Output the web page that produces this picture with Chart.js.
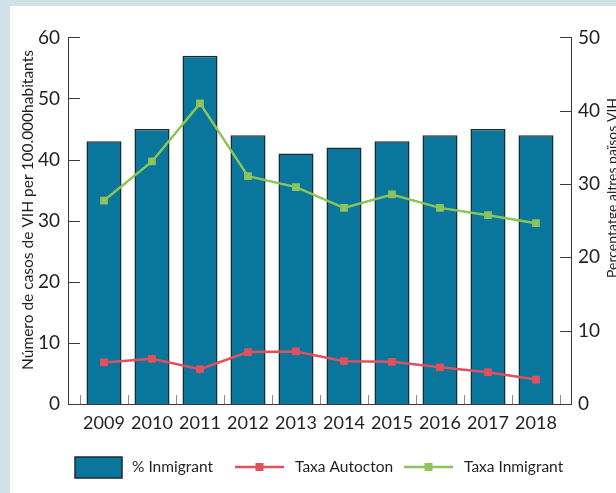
<!DOCTYPE html>
<html>
<head>
<meta charset="utf-8">
<script src="https://cdn.jsdelivr.net/npm/chart.js@4.4.0/dist/chart.umd.min.js"></script>
<style>
  html, body { margin: 0; padding: 0; }
  body { width: 616px; height: 493px; background: #cfe2ea; position: relative; overflow: hidden; }
  #wrap { position: absolute; left: 10px; top: 6px; width: 606px; height: 487px; background: #ffffff; }
</style>
</head>
<body>
<div id="wrap"><canvas id="combo-chart" width="606" height="487"></canvas></div>
<script>
// data
var years = ['2009', '2010', '2011', '2012', '2013', '2014', '2015', '2016', '2017', '2018'];
var pctInmigrant = [43, 45, 57, 44, 41, 42, 43, 44, 45, 44];
var taxaAutocton = [6.8, 7.4, 5.7, 8.5, 8.6, 7.0, 6.9, 6.0, 5.2, 4.0];
var taxaInmigrant = [33.3, 39.7, 49.2, 37.3, 35.5, 32.1, 34.3, 32.1, 30.9, 29.6];
var leftTicks = [0, 10, 20, 30, 40, 50, 60];
var rightTicks = [0, 10, 20, 30, 40, 50];

var barColor = '#0a769c';
var barBorder = '#1e2a30';
var redColor = '#e0505e';
var greenColor = '#8cc35b';
var textColor = '#231f20';
var fontName = 'Lato';

// axis lines, inward ticks, axis titles and legend
var framePlugin = {
    id: 'frame',
    afterDraw: function(chart) {
        var ctx = chart.ctx;
        var area = chart.chartArea;
        var yl = chart.scales.y;
        var yr = chart.scales.y2;
        var x = chart.scales.x;
        var leftX = area.left - 12;
        var rightX = area.right + 11;
        var step = x.getPixelForValue(1) - x.getPixelForValue(0);
        ctx.save();
        ctx.strokeStyle = '#3a3a3a';
        ctx.lineWidth = 1;
        ctx.beginPath();
        ctx.moveTo(leftX + 0.5, Math.round(yl.getPixelForValue(60)) + 0.5);
        ctx.lineTo(leftX + 0.5, Math.round(area.bottom) + 0.5);
        ctx.lineTo(rightX + 0.5, Math.round(area.bottom) + 0.5);
        ctx.lineTo(rightX + 0.5, Math.round(yr.getPixelForValue(50)) + 0.5);
        leftTicks.forEach(function(v) {
            var py = Math.round(yl.getPixelForValue(v)) + 0.5;
            ctx.moveTo(leftX, py);
            ctx.lineTo(leftX + 12, py);
        });
        rightTicks.forEach(function(v) {
            var py = Math.round(yr.getPixelForValue(v)) + 0.5;
            ctx.moveTo(rightX - 11, py);
            ctx.lineTo(rightX + 1, py);
        });
        ctx.stroke();
        // category boundary ticks on the x axis
        ctx.strokeStyle = '#8a8a8a';
        ctx.beginPath();
        for (var i = 0; i <= years.length; i++) {
            var px = x.getPixelForValue(0) + (i - 0.5) * step;
            px = Math.round(px) + 0.5;
            ctx.moveTo(px, area.bottom);
            ctx.lineTo(px, area.bottom - 9);
        }
        ctx.stroke();

        // axis titles
        ctx.fillStyle = textColor;
        ctx.textAlign = 'center';
        ctx.textBaseline = 'middle';
        ctx.save();
        ctx.font = '15.5px ' + fontName;
        ctx.translate(18, 204);
        ctx.rotate(-Math.PI / 2);
        ctx.fillText('Número de casos de VIH per 100.000habitants', 0, 0);
        ctx.restore();
        ctx.save();
        ctx.font = '14px ' + fontName;
        ctx.translate(602, 182);
        ctx.rotate(-Math.PI / 2);
        ctx.fillText('Percentatge altres països VIH', 0, 0);
        ctx.restore();

        // legend
        var ly = 461;
        var ds = chart.data.datasets;
        ctx.font = '15.5px ' + fontName;
        ctx.textAlign = 'left';
        ctx.fillStyle = barColor;
        ctx.fillRect(65, ly - 10, 47, 21);
        ctx.strokeStyle = barBorder;
        ctx.lineWidth = 1.5;
        ctx.strokeRect(65, ly - 10, 47, 21);
        ctx.fillStyle = textColor;
        ctx.fillText(ds[0].label, 122, ly);
        var items = [[ds[1], 225, 285], [ds[2], 394, 454]];
        items.forEach(function(it) {
            ctx.strokeStyle = it[0].borderColor;
            ctx.lineWidth = 2.5;
            ctx.beginPath();
            ctx.moveTo(it[1], ly);
            ctx.lineTo(it[1] + 49, ly);
            ctx.stroke();
            ctx.fillStyle = it[0].borderColor;
            ctx.fillRect(it[1] + 20.5, ly - 4, 8, 8);
            ctx.fillStyle = textColor;
            ctx.fillText(it[0].label, it[2], ly);
        });
        ctx.restore();
    }
};

var ctx1 = document.getElementById('combo-chart').getContext('2d');
var comboChart = new Chart(ctx1, {
    type: 'bar',
    data: {
        labels: years,
        datasets: [{
            type: 'bar',
            label: '% Inmigrant',
            data: pctInmigrant,
            backgroundColor: barColor,
            borderColor: barBorder,
            borderWidth: 1.5,
            barPercentage: 0.73,
            categoryPercentage: 1,
            yAxisID: 'y',
            order: 3
        }, {
            type: 'line',
            label: 'Taxa Autocton',
            data: taxaAutocton,
            borderColor: redColor,
            backgroundColor: redColor,
            borderWidth: 2.5,
            pointStyle: 'rect',
            pointRadius: 5.5,
            pointBorderWidth: 0,
            tension: 0,
            yAxisID: 'y',
            order: 2
        }, {
            type: 'line',
            label: 'Taxa Inmigrant',
            data: taxaInmigrant,
            borderColor: greenColor,
            backgroundColor: greenColor,
            borderWidth: 2.5,
            pointStyle: 'rect',
            pointRadius: 5.5,
            pointBorderWidth: 0,
            tension: 0,
            yAxisID: 'y',
            order: 1
        }]
    },
    options: {
        responsive: false,
        animation: false,
        layout: {
            padding: { top: 20, bottom: 49, left: 0, right: 0 }
        },
        plugins: {
            legend: { display: false },
            tooltip: { enabled: false }
        },
        scales: {
            x: {
                grid: { display: false, drawTicks: false },
                border: { display: false },
                ticks: {
                    color: textColor,
                    font: { family: fontName, size: 18 },
                    padding: 8,
                    autoSkip: false,
                    maxRotation: 0
                },
                afterFit: function(scale) { scale.height = 40; }
            },
            y: {
                position: 'left',
                min: 0,
                max: 60,
                ticks: {
                    stepSize: 10,
                    color: textColor,
                    font: { family: fontName, size: 19 },
                    padding: 20
                },
                grid: { display: false, drawTicks: false },
                border: { display: false },
                afterFit: function(scale) { scale.width = 70; }
            },
            y2: {
                position: 'right',
                min: 0,
                max: 50,
                ticks: {
                    stepSize: 10,
                    color: textColor,
                    font: { family: fontName, size: 19 },
                    padding: 18
                },
                grid: { display: false, drawTicks: false },
                border: { display: false },
                afterFit: function(scale) { scale.width = 56; }
            }
        },
        events: []
    },
    plugins: [framePlugin]
});
</script>
</body>
</html>
